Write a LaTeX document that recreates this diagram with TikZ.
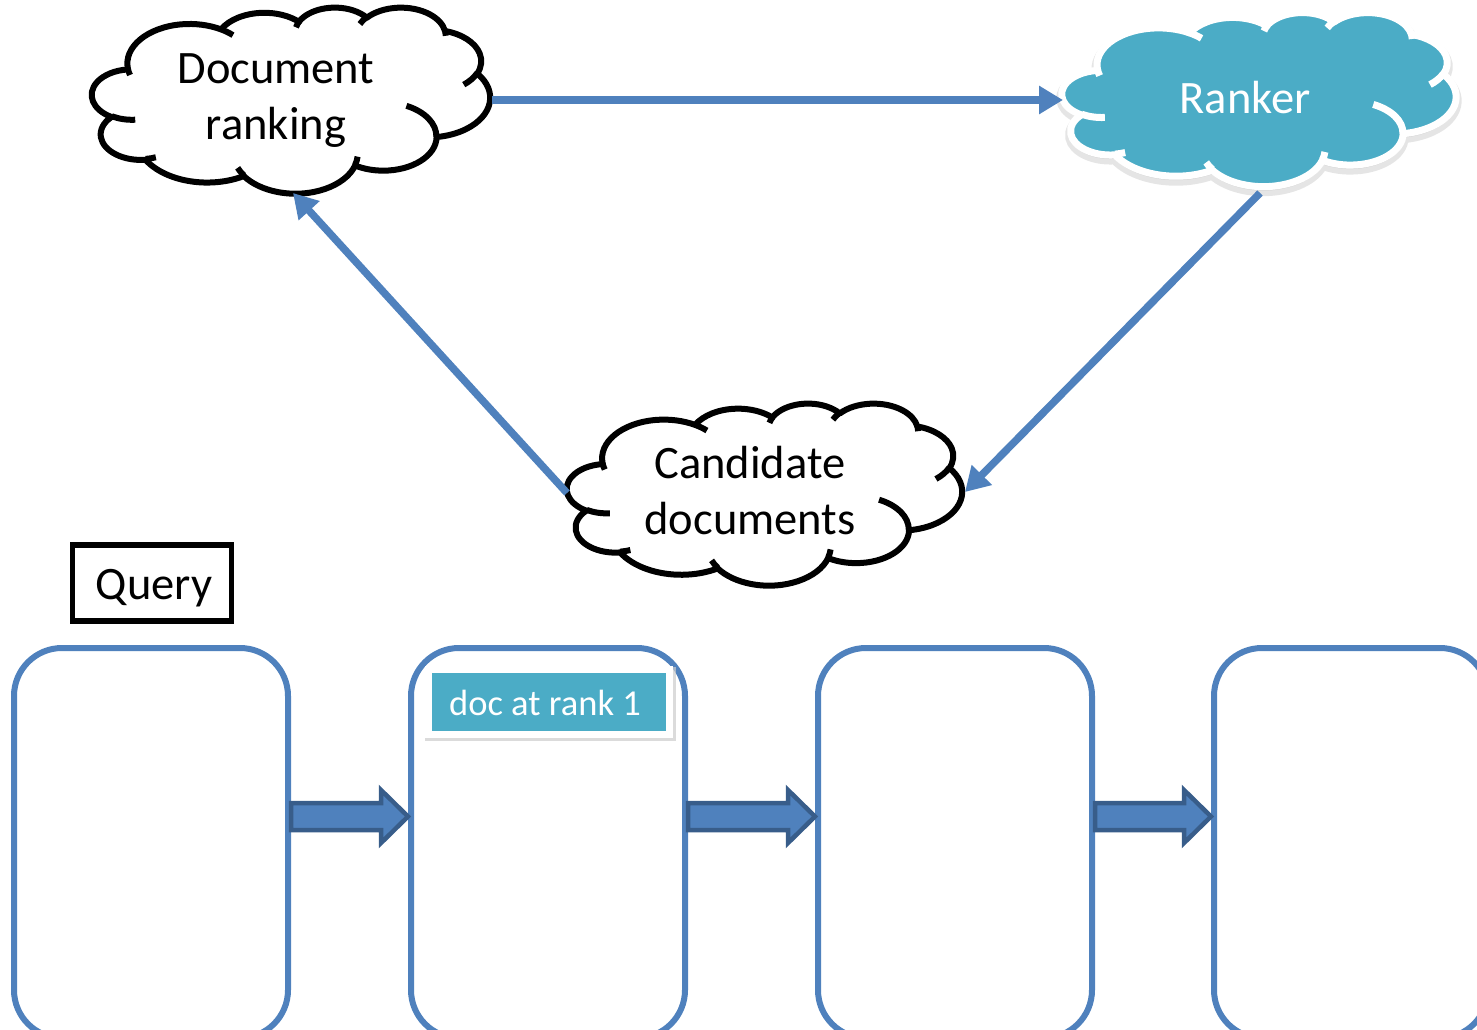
\documentclass[tikz,border=0pt]{standalone}
\usepackage{fontspec}
\setmainfont{Carlito}
\usetikzlibrary{arrows.meta,calc}

\definecolor{linkblue}{HTML}{4F81BD}
\definecolor{arrowedge}{HTML}{385D8A}
\definecolor{aqua}{HTML}{4BACC6}

\tikzset{
  % elliptical arc given by radii, start angle (measured along the ray) and sweep
  cloud arc/.code n args={4}{%
    \pgfmathsetmacro\cloudA{atan2((#1)*sin(#3),(#2)*cos(#3))}%
    \pgfmathsetmacro\cloudB{atan2((#1)*sin((#3)+(#4)),(#2)*cos((#3)+(#4)))}%
    \pgfmathsetmacro\cloudD{\cloudB-\cloudA}%
    \pgfmathsetmacro\cloudD{\cloudD+360*((#4)>0)*(\cloudD<0)-360*((#4)<0)*(\cloudD>0)}%
    \edef\cloudnext{\noexpand\pgfkeysalso{start angle=\cloudA, delta angle=\cloudD, x radius=#1, y radius=#2}}%
    \cloudnext},
  cloud frame/.style n args={4}{shift={(#1,#2)}, x=#3pt, y=-#4pt},
  outline cloud/.style={draw=black, line width=6pt, fill=white, line join=round},
  crease/.style={draw=black, line width=6pt, line cap=butt},
  cloudtext/.style={font=\fontsize{46.5}{56}\selectfont, align=center, inner sep=0pt},
  link/.style={draw=linkblue, line width=7.5pt, -{Triangle[length=24pt,width=27pt]}},
  docbox/.style={draw=linkblue, line width=6pt, fill=white, rounded corners=48pt,
    minimum width=274pt, minimum height=390pt, inner sep=0pt},
  blockarrow/.style={fill=linkblue, draw=arrowedge, line width=4.5pt, line join=miter},
}

% cloud outline in a 432 x 432 frame
\newcommand\cloudoutline{(39.00,143.70)
  arc[cloud arc={67.53}{91.90}{-190.4875}{123.7805}]
  arc[cloud arc={53.33}{72.67}{-144.1024}{89.9452}]
  arc[cloud arc={43.65}{59.45}{-145.8079}{99.7230}]
  arc[cloud arc={48.57}{65.95}{-130.9861}{117.2417}]
  arc[cloud arc={53.33}{72.73}{-78.7089}{109.0269}]
  arc[cloud arc={67.75}{92.20}{-46.2673}{130.2690}]
  arc[cloud arc={57.85}{78.67}{0.6250}{114.0333}]
  arc[cloud arc={67.52}{92.15}{22.4516}{115.1726}]
  arc[cloud arc={77.20}{105.43}{66.2426}{75.7110}]
  arc[cloud arc={43.60}{59.18}{-274.9421}{146.7356}]
  arc[cloud arc={43.45}{59.45}{-246.8285}{152.5189}]
  -- cycle}

% the short inner strokes between the puffs
\newcommand\cloudcreases{
  (46.93,261.77) arc[cloud arc={43.45}{59.45}{86.7420}{26.4295}]
  (69.28,348.99) arc[cloud arc={43.60}{59.18}{73.6105}{11.4475}]
  (164.78,390.90) arc[cloud arc={67.52}{92.15}{137.6242}{14.0811}]
  (288.27,347.51) arc[cloud arc={67.52}{92.15}{6.4533}{15.9984}]
  (341.29,229.54) arc[cloud arc={57.85}{78.67}{-70.2924}{70.9174}]
  (417.98,153.54) arc[cloud arc={53.33}{72.73}{30.3180}{27.7515}]
  (383.24,54.26) arc[cloud arc={48.57}{65.95}{-13.7443}{14.8589}]
  (290.78,39.52) arc[cloud arc={48.57}{65.95}{-149.1815}{18.1954}]
  (221.41,47.20) arc[cloud arc={43.65}{59.45}{-163.4943}{17.6864}]
  (140.00,51.92) arc[cloud arc={67.53}{91.90}{-66.7070}{12.3194}]
  (41.27,157.89) arc[cloud arc={67.53}{91.90}{157.6544}{11.8582}]}

\begin{document}
\begin{tikzpicture}[x=1pt, y=-1pt]
  \useasboundingbox (0,0) rectangle (1477,1030);
  \clip (0,0) rectangle (1477,1030);

  % ---- clouds ----
  \begin{scope}[cloud frame={92}{7}{0.9213}{0.4306}]
    \path[outline cloud] \cloudoutline;
    \path[crease] \cloudcreases;
  \end{scope}

  \begin{scope}[cloud frame={1062}{12}{0.9120}{0.4028}]
    \path[fill=black!30, draw=black!25, line width=11pt, opacity=0.4,
          transform canvas={yshift=-4pt}] \cloudoutline;
    \path[fill=aqua, draw=white, line width=7pt, line join=round] \cloudoutline;
    \path[draw=white, line width=7pt] \cloudcreases;
  \end{scope}

  \begin{scope}[cloud frame={567}{403}{0.9144}{0.4213}]
    \path[outline cloud] \cloudoutline;
    \path[crease] \cloudcreases;
  \end{scope}

  \node[cloudtext] (docrank) at (276,101) {Document\\ranking};
  \node[cloudtext, text=white] (ranker) at (1245,98) {Ranker};
  \node[cloudtext] (cand) at (750,491) {Candidate\\documents};

  % attachment points on the cloud outlines
  \coordinate (docrank-e) at (492,100);
  \coordinate (docrank-s) at (293,193);
  \coordinate (ranker-w) at (1063,100);
  \coordinate (ranker-s) at (1260,193);
  \coordinate (cand-e) at (965,492);
  \coordinate (cand-w) at (567,493);

  \draw[link] (docrank-e) -- (ranker-w);
  \draw[link] (ranker-s) -- (cand-e);
  \draw[link] (cand-w) -- (docrank-s);

  % ---- query and document slots ----
  \node[draw=black, line width=5.5pt, minimum width=159pt, minimum height=76pt,
        inner sep=0pt] (query) at (152,583) {};
  \node[font=\fontsize{46.5}{56}\selectfont, inner sep=0pt] (qlabel) at (154,588) {Query};

  \node[docbox, anchor=north] (b1) at (151,645) {};
  \node[docbox, anchor=north] (b2) at (548,645) {};
  \node[docbox, anchor=north] (b3) at (955,645) {};
  \node[docbox, anchor=north] (b4) at (1351,645) {};

  % card inside the second slot
  \fill[black!20, opacity=0.7] (425,667) rectangle (676,741);
  \node[fill=white, minimum width=248pt, minimum height=72pt, inner sep=0pt]
       (card) at (549,702) {};
  \node[fill=aqua, minimum width=234pt, minimum height=58pt, inner sep=0pt]
       (rank1) at (549,702) {};
  \node[text=white, font=\fontsize{36.5}{42}\selectfont, inner sep=0pt]
       (rank1label) at (545,703) {doc at rank 1};

  % ---- block arrows between slots ----
  \coordinate (arow) at (0,816.5);
  \foreach \a/\b in {b1/b2, b2/b3, b3/b4}{
    \path (\a.east |- arow) coordinate (s) (\b.west |- arow) coordinate (t);
    \draw[blockarrow] ($(s)+(0,-13.5)$) -- ($(t)+(-27,-13.5)$) -- ($(t)+(-27,-26.5)$)
      -- (t) -- ($(t)+(-27,26.5)$) -- ($(t)+(-27,13.5)$) -- ($(s)+(0,13.5)$) -- cycle;
  }
\end{tikzpicture}
\end{document}
